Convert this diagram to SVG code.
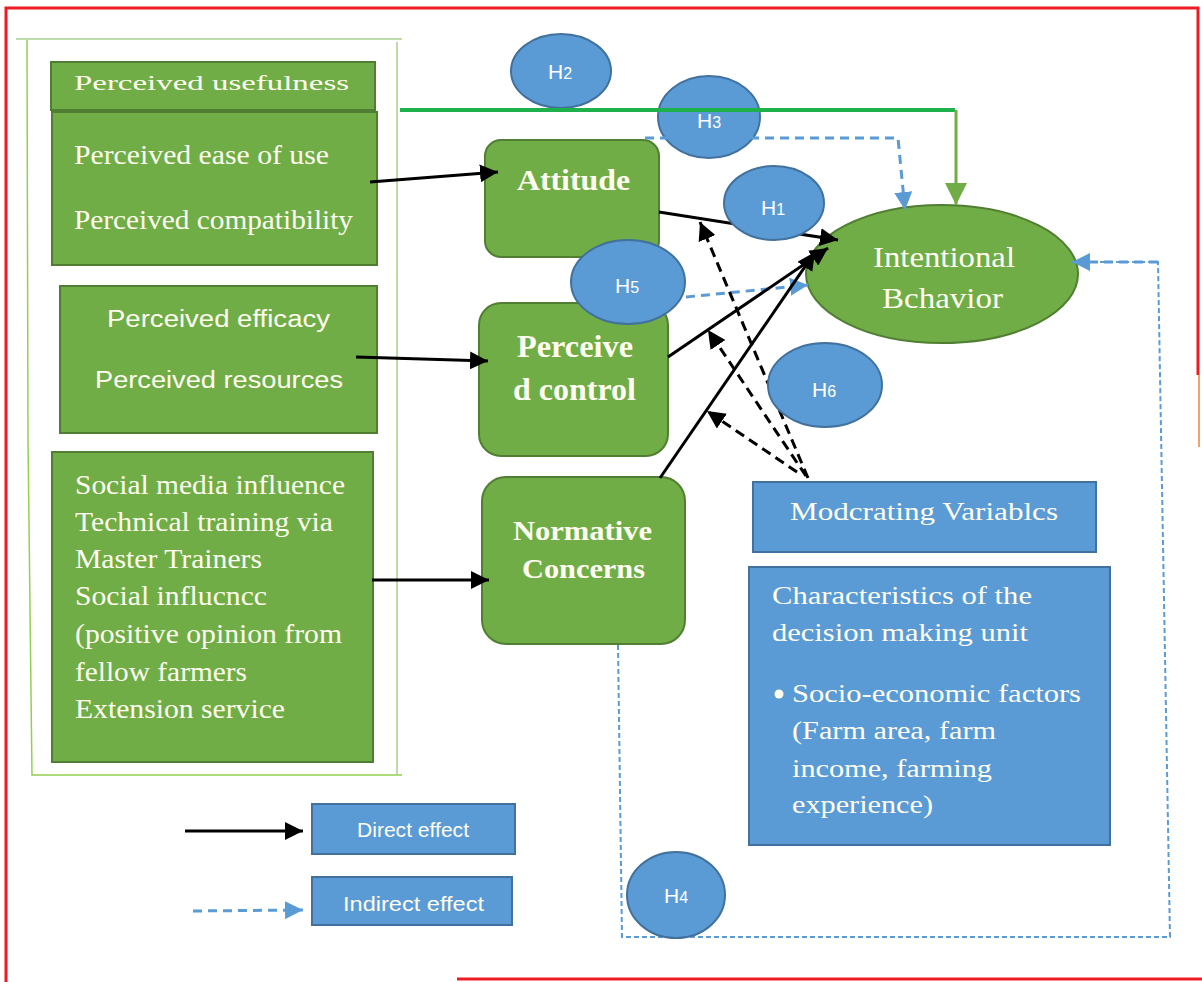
<svg xmlns="http://www.w3.org/2000/svg" width="1202" height="982" viewBox="0 0 1202 982">
<style>
.gbox{fill:#70AD47;stroke:#507E32;stroke-width:2}
.bbox{fill:#5B9BD5;stroke:#41719C;stroke-width:2}
.hyp{fill:#5B9BD5;stroke:#41719C;stroke-width:2}
.serif{font-family:"Liberation Serif","Times New Roman",serif;fill:#FFFEF0}
.sans{font-family:"Liberation Sans",Arial,sans-serif;fill:#FFFEF0}
.bold{font-weight:bold}
.hl{font-family:"Liberation Sans",Arial,sans-serif;fill:#FFFFFF;font-size:21px}
.blk{stroke:#000;stroke-width:3;fill:none}
.blkd{stroke:#000;stroke-width:3;fill:none;stroke-dasharray:10 6}
.bld{stroke:#5B9BD5;stroke-width:3;fill:none;stroke-dasharray:9 6}
.blthin{stroke:#5B9BD5;stroke-width:2;fill:none;stroke-dasharray:5 3}
</style>
<defs>
<marker id="ab" viewBox="0 0 10 10" refX="10" refY="5" markerWidth="18" markerHeight="18" markerUnits="userSpaceOnUse" orient="auto"><path d="M0,0 L10,5 L0,10 z" fill="#000"/></marker>
<marker id="abl" viewBox="0 0 10 10" refX="10" refY="5" markerWidth="18" markerHeight="18" markerUnits="userSpaceOnUse" orient="auto"><path d="M0,0 L10,5 L0,10 z" fill="#5B9BD5"/></marker>
<marker id="agr" viewBox="0 0 10 10" refX="10" refY="5" markerWidth="22" markerHeight="22" markerUnits="userSpaceOnUse" orient="auto"><path d="M0,0 L10,5 L0,10 z" fill="#70AD47"/></marker>
</defs>
<rect width="1202" height="982" fill="#FFFFFF"/>
<g id="frame">
<polyline points="6,982 6,8 1198,8 1198,375" fill="none" stroke="#ED1C24" stroke-width="3"/>
<line x1="1199" y1="375" x2="1199" y2="447" stroke="#F0803C" stroke-width="1.5"/>
<line x1="457" y1="979" x2="1202" y2="979" stroke="#ED1C24" stroke-width="3"/>
<polyline points="16,39 402,39" fill="none" stroke="#A9D18E" stroke-width="1.5"/>
<polyline points="27,40 28,440 32,775 402,775" fill="none" stroke="#92D050" stroke-width="1.5"/>
<line x1="397" y1="42" x2="397" y2="775" stroke="#A9D18E" stroke-width="1.5"/>
</g>
<g id="node-pu">
<rect class="gbox" x="51" y="62" width="324" height="48"/>
<text class="serif" x="74" y="90" font-size="22" textLength="275" lengthAdjust="spacingAndGlyphs">Perceived usefulness</text>
</g>
<g id="node-ease">
<rect class="gbox" x="52" y="112" width="325" height="153"/>
<text class="serif" x="74" y="164" font-size="28" textLength="255" lengthAdjust="spacingAndGlyphs">Perceived ease of use</text>
<text class="serif" x="74" y="229" font-size="28" textLength="279" lengthAdjust="spacingAndGlyphs">Perceived compatibility</text>
</g>
<g id="node-efficacy">
<rect class="gbox" x="60" y="286" width="317" height="147"/>
<text class="sans" x="107" y="327" font-size="23" textLength="223" lengthAdjust="spacingAndGlyphs">Perceived efficacy</text>
<text class="sans" x="95" y="388" font-size="23" textLength="248" lengthAdjust="spacingAndGlyphs">Perceived resources</text>
</g>
<g id="node-social">
<rect class="gbox" x="52" y="452" width="321" height="310"/>
<text class="serif" font-size="27">
<tspan x="75" y="494" textLength="270" lengthAdjust="spacingAndGlyphs">Social media influence</tspan>
<tspan x="75" y="531" textLength="258" lengthAdjust="spacingAndGlyphs">Technical training via</tspan>
<tspan x="75" y="568" textLength="187" lengthAdjust="spacingAndGlyphs">Master Trainers</tspan>
<tspan x="75" y="605" textLength="192" lengthAdjust="spacingAndGlyphs">Social influcncc</tspan>
<tspan x="75" y="643" textLength="267" lengthAdjust="spacingAndGlyphs">(positive opinion from</tspan>
<tspan x="75" y="681" textLength="172" lengthAdjust="spacingAndGlyphs">fellow farmers</tspan>
<tspan x="75" y="718" textLength="210" lengthAdjust="spacingAndGlyphs">Extension service</tspan>
</text>
</g>
<g id="node-attitude">
<rect class="gbox" x="485" y="140" width="174" height="117" rx="16"/>
<text class="serif bold" x="517" y="190" font-size="30" textLength="113" lengthAdjust="spacingAndGlyphs">Attitude</text>
</g>
<g id="node-control">
<rect class="gbox" x="479" y="303" width="189" height="153" rx="22"/>
<text class="serif bold" x="517" y="357" font-size="31" textLength="116" lengthAdjust="spacingAndGlyphs">Perceive</text>
<text class="serif bold" x="513" y="400" font-size="31" textLength="123" lengthAdjust="spacingAndGlyphs">d control</text>
</g>
<g id="node-normative">
<rect class="gbox" x="482" y="477" width="203" height="167" rx="24"/>
<text class="serif bold" x="513" y="540" font-size="27" textLength="139" lengthAdjust="spacingAndGlyphs">Normative</text>
<text class="serif bold" x="522" y="578" font-size="27" textLength="123" lengthAdjust="spacingAndGlyphs">Concerns</text>
</g>
<g id="node-intention">
<ellipse class="gbox" cx="942" cy="274" rx="136" ry="69"/>
<text class="serif" x="873" y="267" font-size="30" textLength="142" lengthAdjust="spacingAndGlyphs">Intentional</text>
<text class="serif" x="882" y="308" font-size="30" textLength="121" lengthAdjust="spacingAndGlyphs">Bchavior</text>
</g>
<g id="node-moderating">
<rect class="bbox" x="753" y="482" width="343" height="70"/>
<text class="serif" x="790" y="520" font-size="25" textLength="268" lengthAdjust="spacingAndGlyphs">Modcrating Variablcs</text>
</g>
<g id="node-characteristics">
<rect class="bbox" x="749" y="567" width="361" height="278"/>
<text class="serif" font-size="26">
<tspan x="772" y="604" textLength="260" lengthAdjust="spacingAndGlyphs">Characteristics of the</tspan>
<tspan x="772" y="641" textLength="256" lengthAdjust="spacingAndGlyphs">decision making unit</tspan>
<tspan x="792" y="702" textLength="289" lengthAdjust="spacingAndGlyphs">Socio-economic factors</tspan>
<tspan x="792" y="739" textLength="204" lengthAdjust="spacingAndGlyphs">(Farm area, farm</tspan>
<tspan x="792" y="777" textLength="200" lengthAdjust="spacingAndGlyphs">income, farming</tspan>
<tspan x="792" y="813" textLength="141" lengthAdjust="spacingAndGlyphs">experience)</tspan>
</text>
<circle cx="779" cy="694" r="4.5" fill="#FFFEF0"/>
</g>
<g id="node-h2">
<ellipse class="hyp" cx="561" cy="71" rx="50" ry="37"/>
<text class="hl" x="548" y="79">H<tspan font-size="16">2</tspan></text>
</g>
<g id="node-h3">
<ellipse class="hyp" cx="709" cy="117" rx="51" ry="41"/>
<text class="hl" x="697" y="128">H<tspan font-size="16">3</tspan></text>
</g>
<g id="connectors">
<polyline points="400,110 955,110" fill="none" stroke="#1DB04B" stroke-width="4"/>
<polyline points="956,110 956,205" fill="none" stroke="#70AD47" stroke-width="3" marker-end="url(#agr)"/>
<polyline class="bld" points="645,138 898,138 905,210" marker-end="url(#abl)"/>
<line class="bld" x1="686" y1="297" x2="808" y2="285" marker-end="url(#abl)"/>
<polyline class="blthin" points="618,645 622,937 1170,937 1158,262 1072,262" marker-end="url(#abl)"/>
<line class="bld" x1="1158" y1="262" x2="1072" y2="262" stroke-dasharray="14 6"/>
<line class="blk" x1="370" y1="182" x2="498" y2="172" marker-end="url(#ab)"/>
<line class="blk" x1="356" y1="357" x2="488" y2="361" marker-end="url(#ab)"/>
<line class="blk" x1="372" y1="580" x2="489" y2="580" marker-end="url(#ab)"/>
<line class="blk" x1="659" y1="212" x2="838" y2="240" marker-end="url(#ab)"/>
<line class="blk" x1="668" y1="357" x2="828" y2="248" marker-end="url(#ab)"/>
<line class="blk" x1="660" y1="478" x2="815" y2="252" marker-end="url(#ab)"/>
<line class="blkd" x1="808" y1="478" x2="700" y2="222" marker-end="url(#ab)"/>
<line class="blkd" x1="806" y1="476" x2="708" y2="330" marker-end="url(#ab)"/>
<line class="blkd" x1="797" y1="472" x2="707" y2="411" marker-end="url(#ab)"/>
<line class="blk" x1="185" y1="831" x2="303" y2="831" marker-end="url(#ab)"/>
<line class="bld" x1="193" y1="911" x2="303" y2="910" marker-end="url(#abl)"/>
</g>
<g id="node-h1">
<ellipse class="hyp" cx="774" cy="203" rx="50" ry="37"/>
<text class="hl" x="761" y="215">H<tspan font-size="16">1</tspan></text>
</g>
<g id="node-h5">
<ellipse class="hyp" cx="628" cy="282" rx="57" ry="42"/>
<text class="hl" x="615" y="293">H<tspan font-size="16">5</tspan></text>
</g>
<g id="node-h6">
<ellipse class="hyp" cx="825" cy="385" rx="57" ry="42"/>
<text class="hl" x="812" y="397">H<tspan font-size="16">6</tspan></text>
</g>
<g id="node-h4">
<ellipse class="hyp" cx="676" cy="895" rx="49" ry="43"/>
<text class="hl" x="664" y="903">H<tspan font-size="16">4</tspan></text>
</g>
<g id="legend-direct">
<rect class="bbox" x="312" y="804" width="203" height="50"/>
<text class="sans" x="357" y="837" font-size="20" textLength="112" lengthAdjust="spacingAndGlyphs">Direct effect</text>
</g>
<g id="legend-indirect">
<rect class="bbox" x="312" y="877" width="200" height="48"/>
<text class="sans" x="343" y="911" font-size="20" textLength="141" lengthAdjust="spacingAndGlyphs">Indirect effect</text>
</g>
</svg>
